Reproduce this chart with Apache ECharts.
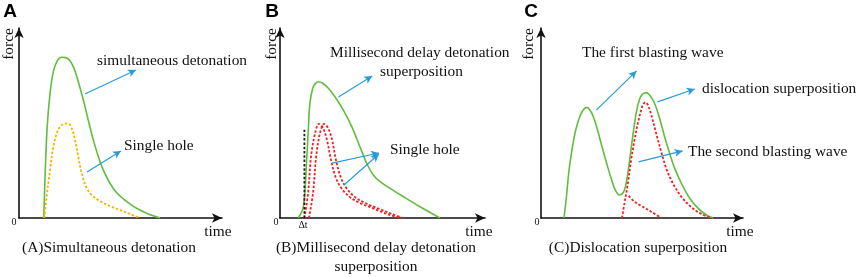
<!DOCTYPE html>
<html><head><meta charset="utf-8">
<script src="https://cdn.jsdelivr.net/npm/echarts@6/dist/echarts.min.js"></script>
<style>html,body{margin:0;padding:0;background:#fff}#c{width:858px;height:277px}</style>
</head><body><div id="c"></div><script>
// ---- data (x = time 0..100, y = force 0..100, schematic) ----
const panelLetters = ['A', 'B', 'C'];
const captionsLine1 = ['(A)Simultaneous detonation', '(B)Millisecond delay detonation', '(C)Dislocation superposition'];
const captionsLine2 = ['', 'superposition', ''];
const axisNameX = 'time';
const axisNameY = 'force';
const originLabel = '0';
const deltaLabel = 'Δt';

const aSimultaneous = [[12.2,0],[12.9,23.5],[13.9,48.1],[15.3,65.6],[16.9,77.0],[18.9,82.8],[21.0,84.6],[23.0,84.4],[25.1,82.8],[27.1,78.8],[29.2,71.7],[31.7,62.1],[34.1,51.6],[36.6,41.1],[39.1,32.3],[41.5,25.3],[44.8,18.3],[48.1,13.3],[53.1,8.6],[57.9,5.1],[63.7,2.1],[69.5,0]];
const aSingleHole = [[12.5,0],[13.6,11.2],[15.3,25.3],[16.9,37.5],[18.9,45.4],[21.0,48.9],[24.0,49.8],[26.0,47.2],[27.6,41.1],[29.2,32.3],[30.9,23.5],[33.0,16.5],[35.8,12.1],[39.9,8.9],[44.8,6.3],[49.8,4.2],[54.7,2.1],[59.6,0]];

const bSuperposition = [[8.9,0],[11.4,5.8],[13.0,30.5],[13.8,46.3],[14.6,60.5],[16.0,68.4],[17.4,71.0],[18.7,71.7],[20.8,70.9],[23.6,68.3],[26.8,63.8],[30.9,56.8],[35.0,48.1],[39.0,37.5],[42.3,28.8],[45.5,22.6],[48.8,19.1],[53.7,15.6],[60.2,11.2],[68.3,5.9],[78.0,0]];
const bSingleHole1 = [[11.9,0],[13.7,13],[15.1,32],[17.1,44.6],[19.0,49.5],[21.0,47.4],[22.9,41.1],[24.9,30.5],[27.3,21],[30.2,15.3],[34.1,11],[39.0,7.9],[44.9,5.3],[52.2,2.1],[58.5,0]];
const bSingleHole2 = [[14.1,0],[16.1,13],[17.6,32],[19.5,44.6],[21.5,49.5],[23.4,47.4],[25.4,41.1],[27.3,30.5],[29.8,21],[32.7,15.3],[36.6,11],[41.5,7.9],[47.3,5.3],[54.6,2.1],[60.0,0]];
const bDelayMarker = [[11.9,0],[11.9,46.5]];

const cDislocation = [[11.4,0],[12.6,11.2],[13.9,25.3],[15.6,37.5],[17.2,46.3],[19.2,53.3],[20.9,56.8],[22.6,58.2],[24.2,56.8],[25.9,53.3],[28.0,46.3],[30.2,37.5],[32.5,28.8],[34.7,20.9],[36.8,14.7],[38.8,12.1],[40.5,13.0],[41.8,16.5],[43.0,23.5],[44.1,32.3],[45.4,42.8],[47.1,55.1],[48.8,62.5],[50.4,65.3],[52.1,66.0],[54.1,64.2],[56.2,60.4],[58.7,52.5],[61.2,42.8],[63.7,34.0],[66.2,26.1],[69.5,18.2],[73.6,10.4],[77.8,5.1],[81.9,1.6],[85.2,0]];
const cSecondWave = [[40.1,0],[41.3,7.7],[43.0,18.2],[44.6,30.5],[46.3,41.1],[47.9,49.8],[49.6,56.8],[50.7,60.0],[51.7,60.9],[52.9,59.5],[54.6,54.2],[57.0,44.6],[59.5,34.9],[62.0,26.1],[65.3,18.2],[69.5,11.2],[74.5,5.6],[79.4,2.1],[84.4,0]];
const cFirstWaveTail = [[43.4,11.6],[46.3,8.6],[50.4,5.9],[54.6,3.3],[59.6,0]];

const aArrows = [[[32.5,65.3],[57.6,77.9]], [[33.5,24.2],[50.2,35.3]]];
const bArrows = [[[28.5,63.7],[45.0,74.7]], [[25.4,28.9],[48.3,34.2]], [[31.2,17.4],[48.3,33.7]]];
const cArrows = [[[27.4,56.8],[47.3,77.4]], [[57.7,61.1],[76.1,67.9]], [[48.3,29.5],[70.1,35.3]]];

const annotations = [
  {text: 'simultaneous detonation', x: 97, y: 61},
  {text: 'Single hole', x: 124, y: 146},
  {text: 'Millisecond delay detonation', x: 330, y: 53},
  {text: 'superposition', x: 380, y: 72},
  {text: 'Single hole', x: 390, y: 150},
  {text: 'The first blasting wave', x: 582, y: 53},
  {text: 'dislocation superposition', x: 702, y: 89},
  {text: 'The second blasting wave', x: 688, y: 152}
];

// ---- layout ----
const GREEN = '#62bd3e', YELLOW = '#f5b400', RED = '#ee2222', BLUE = '#2a9bd7';
const SERIF = '"Liberation Serif", "Times New Roman", serif';
const FONT = '15.4px ' + SERIF;
const grids = [
  {left: 19, top: 28, width: 203, height: 190},
  {left: 280, top: 28, width: 205, height: 190},
  {left: 541, top: 28, width: 202, height: 190}
];
const axisCommon = {
  type: 'value', min: 0, max: 100,
  axisLine: {show: true, onZero: true, lineStyle: {color: '#111', width: 1.6}, symbol: ['none', 'arrow'], symbolSize: [7, 10]},
  axisTick: {show: false}, axisLabel: {show: false}, splitLine: {show: false}
};
const xAxes = grids.map((g, i) => Object.assign({gridIndex: i}, axisCommon));
const yAxes = grids.map((g, i) => Object.assign({gridIndex: i}, axisCommon));

function curve(data, idx, color, dashed, width) {
  return {
    type: 'line', xAxisIndex: idx, yAxisIndex: idx, data: data,
    smooth: 0.35, showSymbol: false, symbol: 'none', silent: true,
    lineStyle: {color: color, width: width || 1.6, type: dashed ? [2.5, 1.8] : 'solid'},
    z: 3
  };
}
function arrows(list, idx) {
  return {
    type: 'line', xAxisIndex: idx, yAxisIndex: idx, data: [], silent: true,
    markLine: {
      silent: true, animation: false, symbol: ['none', 'arrow'], symbolSize: [6, 8],
      lineStyle: {color: BLUE, width: 1.2, type: 'solid'}, label: {show: false},
      data: list.map(a => [{coord: a[0]}, {coord: a[1]}])
    }
  };
}

const series = [
  curve(aSimultaneous, 0, GREEN, false),
  curve(aSingleHole, 0, YELLOW, true, 1.8),
  curve(bSuperposition, 1, GREEN, false),
  curve(bSingleHole1, 1, RED, true, 1.8),
  curve(bSingleHole2, 1, RED, true, 1.8),
  Object.assign(curve(bDelayMarker, 1, '#222', true, 1.8), {smooth: false}),
  curve(cDislocation, 2, GREEN, false),
  curve(cSecondWave, 2, RED, true, 1.8),
  curve(cFirstWaveTail, 2, RED, true, 1.8),
  arrows(aArrows, 0), arrows(bArrows, 1), arrows(cArrows, 2)
];

const txt = (text, x, y, opts) => Object.assign({
  type: 'text', x: x, y: y, silent: true,
  style: Object.assign({text: text, font: FONT, fill: '#111', align: 'left', verticalAlign: 'middle'}, opts || {})
});
const graphic = [];
annotations.forEach(a => graphic.push(txt(a.text, a.x, a.y)));
const letterPos = [[10, 12], [272, 12], [531, 12]];
const forcePos = [[9, 44], [272, 44], [529, 44]];
const zeroPos = [[14, 222], [276, 222], [537, 222]];
const timePos = [[218, 232], [479, 232], [740, 232]];
const capPos = [[109, 248], [376, 248], [638, 248]];
for (let i = 0; i < 3; i++) {
  graphic.push(txt(panelLetters[i], letterPos[i][0], letterPos[i][1], {font: 'bold 19px "Liberation Sans", Arial, sans-serif', align: 'center', fill: '#000'}));
  graphic.push(Object.assign(txt(axisNameY, forcePos[i][0], forcePos[i][1], {align: 'center'}), {rotation: Math.PI / 2}));
  graphic.push(txt(originLabel, zeroPos[i][0], zeroPos[i][1], {font: '10px ' + SERIF, align: 'center'}));
  graphic.push(txt(axisNameX, timePos[i][0], timePos[i][1], {align: 'center'}));
  graphic.push(txt(captionsLine1[i], capPos[i][0], capPos[i][1], {align: 'center'}));
  if (captionsLine2[i]) graphic.push(txt(captionsLine2[i], capPos[i][0], capPos[i][1] + 19, {align: 'center'}));
}
graphic.push(txt(deltaLabel, 303, 225, {font: '10px ' + SERIF, align: 'center'}));

const chart = echarts.init(document.getElementById('c'), null, {renderer: 'canvas'});
chart.setOption({
  animation: false, backgroundColor: '#fff',
  grid: grids, xAxis: xAxes, yAxis: yAxes, series: series, graphic: graphic
});
</script></body></html>
